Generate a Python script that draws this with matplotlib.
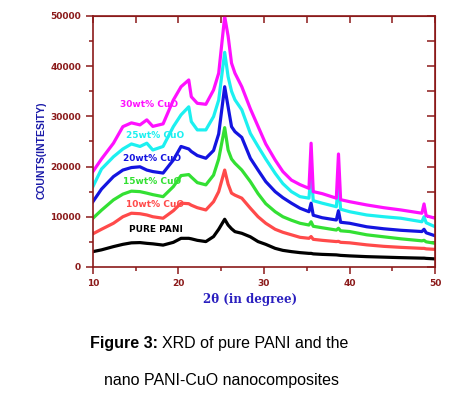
import matplotlib
matplotlib.use("Agg")
import matplotlib.pyplot as plt
from matplotlib.ticker import MultipleLocator

# 2-theta grid (degrees) and counts
two_theta = [10, 11, 12.4, 13.5, 14.5, 15.5, 16.3, 17, 18.2, 19.4, 20.3, 21.2, 21.5,
             22.2, 23.2, 24.1, 24.7, 25.4, 25.8, 26.2, 26.6, 27.4, 28.4, 29.3, 30.2,
             31.3, 32.2, 33.2, 34.2, 35.25, 35.5, 35.75, 36.8, 38.45, 38.7, 38.95, 40,
             42, 44, 46, 48.45, 48.7, 48.95, 50]

pure_pani = [3050, 3400, 4050, 4500, 4800, 4850, 4700, 4600, 4350, 4900, 5700, 5700, 5600,
             5300, 5050, 6050, 7500, 9500, 8350, 7600, 7030, 6700, 6000, 5050, 4500,
             3700, 3300, 3050, 2850, 2700, 2700, 2600, 2500, 2400, 2350, 2300, 2200,
             2050, 1950, 1850, 1750, 1750, 1700, 1600]

cuo_10 = [6600, 7500, 8700, 10000, 10700, 10600, 10350, 10000, 9700, 11200, 12700, 12600, 12300,
          11800, 11350, 13000, 15000, 19300, 16500, 14700, 14300, 13700, 11700, 10000, 8700,
          7500, 6900, 6400, 5900, 5700, 6050, 5500, 5300, 5050, 5100, 4900, 4800,
          4400, 4100, 3900, 3700, 3700, 3600, 3500]

cuo_15 = [9700, 11300, 13350, 14500, 15100, 15000, 14700, 14400, 14000, 16000, 18200, 18400, 17900,
          16800, 16350, 18300, 21500, 27750, 23300, 21500, 20650, 19300, 17000, 14600, 12600,
          11000, 10000, 9300, 8700, 8350, 9000, 8100, 7800, 7350, 7700, 7200, 7050,
          6400, 6000, 5600, 5200, 5300, 5000, 4700]

cuo_20 = [13000, 15500, 18000, 19300, 19800, 19950, 19300, 19000, 18700, 21300, 24000, 23500, 23000,
          22200, 21650, 23200, 26500, 35900, 31900, 27950, 26950, 25800, 21650, 19300, 17000,
          15000, 13800, 12700, 11700, 11000, 12700, 10300, 9800, 9350, 11200, 8900, 8700,
          8000, 7600, 7300, 7050, 7500, 6800, 6200]

cuo_25 = [16000, 19500, 21950, 23500, 24500, 24000, 24650, 23300, 24000, 27950, 30300, 31900, 28950,
          27300, 27300, 29950, 33250, 42750, 37900, 35000, 33300, 31300, 26600, 24000, 21500,
          18650, 16600, 15000, 14000, 13700, 19000, 13200, 12700, 12000, 16650, 11500, 11000,
          10350, 10000, 9700, 9000, 10000, 8800, 8000]

cuo_30 = [19000, 21500, 24650, 27950, 28700, 28300, 29300, 28000, 28500, 33250, 35900, 37250, 33900,
          32600, 32400, 35250, 38600, 49900, 46000, 40600, 38600, 35900, 31500, 28000, 24500,
          21300, 19000, 17300, 16400, 15650, 24650, 15000, 14600, 13700, 22500, 13400, 13000,
          12350, 11800, 11350, 10700, 12550, 10200, 9700]

labels = ["PURE PANI", "10wt% CuO", "15wt% CuO", "20wt% CuO", "25wt% CuO", "30wt% CuO"]
colors = ["black", "#ff4a4a", "#33e033", "#1414e0", "#1cf0f0", "#ff10ff"]
label_pos = [(14.2, 7500), (13.9, 12500), (13.5, 17000), (13.5, 21700), (13.9, 26200), (13.2, 32300)]
series = [pure_pani, cuo_10, cuo_15, cuo_20, cuo_25, cuo_30]

frame = "#8b1a1a"

fig = plt.figure(figsize=(4.6, 3.99), dpi=100)
ax = fig.add_axes([0.202, 0.331, 0.744, 0.629])

for ys, c, lab, (lx, ly) in zip(series, colors, labels, label_pos):
    ax.plot(two_theta, ys, color=c, lw=2.3)
    ax.text(lx, ly, lab, color=c, fontsize=6.5, fontweight="bold", va="center")

ax.set_xlim(10, 50)
ax.set_ylim(0, 50000)
ax.xaxis.set_major_locator(MultipleLocator(10))
ax.xaxis.set_minor_locator(MultipleLocator(5))
ax.yaxis.set_major_locator(MultipleLocator(10000))
ax.yaxis.set_minor_locator(MultipleLocator(5000))

for s in ax.spines.values():
    s.set_color(frame)
    s.set_linewidth(1.2)
ax.tick_params(which="both", direction="out", colors=frame, width=1.1, labelsize=6.5)
ax.tick_params(which="major", length=5)
ax.tick_params(which="minor", length=3)
for t in ax.get_xticklabels() + ax.get_yticklabels():
    t.set_fontweight("bold")

# inward ticks on top and right
top = ax.secondary_xaxis("top")
top.set_xticks(range(10, 51, 5))
top.tick_params(direction="in", length=5, width=1.1, colors=frame, labeltop=False)
top.spines["top"].set_color(frame)
right = ax.secondary_yaxis("right")
right.set_yticks(range(0, 50001, 5000))
right.tick_params(direction="in", length=6, width=1.1, colors=frame, labelright=False)
right.spines["right"].set_color(frame)

ax.set_ylabel("COUNTS(INTESITY)", color="#1a1aa8", fontsize=7.5, fontweight="bold",
              family="Liberation Sans")
ax.yaxis.set_label_coords(-0.135, 0.466)
ax.set_xlabel("2θ (in degree)", color="#2a1fbf", fontsize=8.5, fontweight="bold",
              family="DejaVu Serif")
ax.xaxis.set_label_coords(0.46, -0.105)

fig.text(0.196, 0.140, "Figure 3:", fontsize=11.5, fontweight="bold",
         family="Liberation Sans", va="center")
fig.text(0.352, 0.140, "XRD of pure PANI and the", fontsize=11.5,
         family="Liberation Sans", va="center")
fig.text(0.4815, 0.0476, "nano PANI-CuO nanocomposites", fontsize=11.5,
         family="Liberation Sans", va="center", ha="center")

fig.savefig("out.png", dpi=100)
